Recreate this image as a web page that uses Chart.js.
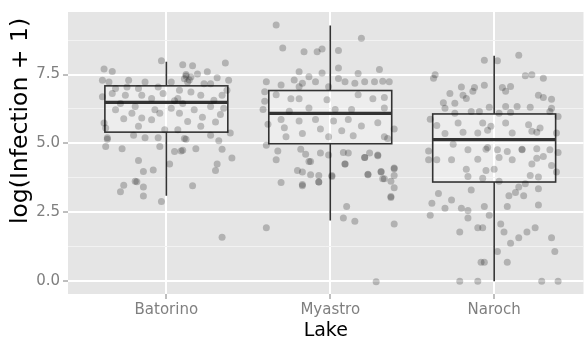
<!DOCTYPE html>
<html>
<head>
<meta charset="utf-8">
<script src="https://cdn.jsdelivr.net/npm/chart.js@4.4.1/dist/chart.umd.min.js"></script>
<style>
  html, body { margin: 0; padding: 0; background: #fff; }
</style>
</head>
<body>
<canvas id="chart" width="587" height="343"></canvas>
<script>
// categories and axis ticks
const lakes = ['Batorino', 'Myastro', 'Naroch'];
const yMajor = [0, 2.5, 5, 7.5];
const yMinor = [1.25, 3.75, 6.25, 8.75];
const xTitle = 'Lake';
const yTitle = 'log(Infection + 1)';

// box plot statistics
const lowerWhisker = [3.10, 2.20, 0.00];
const lowerHinge = [5.41, 4.99, 3.60];
const medians = [6.49, 6.09, 5.14];
const upperHinge = [7.09, 6.92, 6.07];
const upperWhisker = [7.96, 9.28, 8.18];

// jittered observations: horizontal jitter (category units) and log(Infection + 1)
const batorinoJitter = [-0.03, 0.10, 0.16, 0.36, -0.38, -0.33, 0.19, 0.15, 0.31, 0.38, -0.39, -0.35, -0.23, -0.13, 0.03, 0.13, 0.23, 0.27, -0.31, -0.17, -0.05, 0.08, 0.37, -0.33, -0.25, -0.15, -0.02, 0.15, 0.21, 0.34, -0.39, -0.09, 0.07, 0.29, 0.35, -0.31, -0.19, -0.07, 0.03, 0.17, 0.27, -0.26, -0.15, -0.09, -0.04, 0.08, 0.13, 0.30, -0.38, -0.17, -0.01, 0.07, 0.21, -0.37, 0.39, -0.36, -0.13, -0.05, 0.11, 0.27, -0.36, -0.37, -0.27, -0.04, 0.05, 0.10, 0.18, 0.34, 0.12, 0.09, 0.40, -0.17, 0.02, 0.31, 0.30, -0.14, -0.08, -0.18, -0.19, -0.26, -0.14, 0.16, -0.28, -0.14, -0.03, 0.34, -0.28, 0.10, 0.22, -0.20, 0.32, 0.25, 0.12, 0.11, 0.12, 0.14, -0.24, -0.21, 0.05, 0.33];
const batorinoLog = [8.00, 7.86, 7.82, 7.92, 7.70, 7.61, 7.52, 7.41, 7.38, 7.29, 7.29, 7.23, 7.29, 7.23, 7.23, 7.23, 7.17, 7.17, 6.99, 6.99, 7.05, 6.93, 6.93, 6.81, 6.75, 6.75, 6.81, 6.87, 6.75, 6.75, 6.69, 6.63, 6.63, 6.57, 6.28, 6.22, 6.34, 6.22, 6.28, 6.22, 6.34, 5.90, 5.92, 5.86, 6.10, 6.10, 5.80, 5.78, 5.74, 5.62, 5.50, 5.50, 5.62, 5.56, 5.38, 5.21, 5.21, 5.21, 5.18, 5.30, 5.15, 4.89, 4.81, 4.89, 4.71, 4.75, 4.81, 4.79, 5.15, 4.73, 4.47, 4.38, 4.25, 4.25, 4.02, 3.98, 4.04, 3.61, 3.63, 3.48, 3.42, 3.46, 3.25, 3.09, 2.89, 1.60, 6.45, 6.45, 5.95, 5.30, 5.10, 7.60, 7.50, 7.35, 7.45, 7.30, 7.05, 6.10, 6.55, 6.05];

const myastroJitter = [-0.33, 0.19, -0.29, -0.16, -0.08, -0.05, 0.05, -0.19, -0.05, 0.05, 0.17, 0.30, -0.39, -0.30, -0.22, -0.17, -0.13, -0.09, 0.05, 0.09, 0.15, 0.21, 0.27, 0.32, 0.36, -0.01, -0.19, -0.40, -0.33, -0.24, -0.19, -0.02, 0.17, 0.26, 0.33, -0.40, -0.13, 0.03, 0.13, 0.33, -0.41, -0.25, -0.30, -0.19, -0.09, 0.02, 0.11, 0.19, 0.29, 0.39, -0.38, -0.28, -0.17, -0.06, 0.07, -0.27, -0.01, 0.14, 0.33, 0.35, 0.39, 0.31, 0.33, 0.23, 0.37, 0.29, 0.21, 0.09, 0.01, -0.12, -0.07, -0.17, -0.39, -0.32, -0.18, -0.15, -0.06, -0.01, 0.08, 0.11, 0.21, 0.24, 0.29, -0.33, -0.13, 0.09, -0.20, -0.17, -0.12, -0.07, 0.01, 0.23, 0.31, 0.39, 0.32, 0.39, -0.30, -0.17, -0.07, 0.37, 0.39, 0.37, 0.10, 0.08, 0.15, 0.39, -0.39, 0.28];
const myastroLog = [9.30, 8.82, 8.46, 8.33, 8.33, 8.43, 8.37, 7.60, 7.56, 7.74, 7.54, 7.68, 7.24, 7.12, 7.30, 7.18, 7.42, 7.24, 7.36, 7.24, 7.18, 7.24, 7.24, 7.26, 7.24, 7.06, 7.06, 6.88, 6.77, 6.62, 6.62, 6.59, 6.77, 6.62, 6.67, 6.53, 6.29, 6.23, 6.23, 6.29, 6.23, 6.17, 5.87, 5.81, 5.87, 5.81, 5.87, 5.63, 5.75, 5.52, 5.70, 5.57, 5.36, 5.52, 5.46, 5.24, 5.24, 5.28, 5.24, 5.18, 4.11, 3.96, 3.72, 3.88, 3.07, 4.58, 4.49, 4.25, 3.84, 4.34, 3.60, 3.51, 4.93, 4.73, 4.79, 4.61, 4.65, 4.58, 4.67, 4.65, 4.49, 4.65, 4.55, 4.41, 4.34, 4.25, 4.02, 3.96, 3.86, 3.84, 3.80, 3.86, 3.98, 4.08, 3.72, 3.84, 3.58, 3.46, 3.60, 3.63, 3.39, 3.04, 2.71, 2.29, 2.18, 2.08, 1.94, -0.02];

const narochJitter = [0.15, -0.06, 0.02, -0.36, -0.37, 0.19, 0.23, 0.30, -0.06, -0.20, -0.12, 0.05, 0.10, -0.27, -0.19, -0.13, 0.07, 0.27, 0.30, 0.35, -0.31, -0.24, -0.17, -0.30, -0.03, 0.07, 0.14, 0.22, 0.35, -0.14, -0.09, -0.24, 0.03, 0.10, 0.34, 0.39, -0.39, -0.35, -0.22, -0.07, -0.02, 0.07, 0.21, 0.28, -0.30, -0.19, -0.10, -0.04, 0.11, 0.23, 0.26, 0.38, -0.25, -0.16, -0.04, 0.02, 0.17, -0.40, -0.05, 0.08, 0.17, 0.26, 0.34, 0.39, -0.40, -0.35, -0.26, -0.10, 0.03, 0.11, 0.26, 0.30, 0.23, 0.35, 0.38, -0.17, -0.05, 0.00, -0.16, -0.07, 0.22, 0.27, 0.03, 0.19, 0.15, 0.27, -0.14, -0.34, 0.13, 0.09, 0.18, -0.26, -0.38, 0.27, -0.06, 0.08, -0.30, -0.20, -0.16, -0.39, -0.03, -0.16, 0.04, -0.10, -0.07, 0.25, 0.20, -0.21, 0.06, 0.15, 0.35, 0.10, 0.37, 0.02, -0.08, -0.06, 0.08, -0.21, -0.10, 0.29, 0.39];
const narochLog = [8.20, 8.02, 8.00, 7.49, 7.37, 7.46, 7.49, 7.37, 7.11, 7.05, 7.03, 7.03, 7.07, 6.81, 6.75, 6.89, 6.89, 6.75, 6.67, 6.60, 6.48, 6.46, 6.63, 6.28, 6.31, 6.34, 6.34, 6.31, 6.28, 6.16, 6.16, 6.10, 6.10, 6.12, 6.16, 5.98, 5.88, 5.65, 5.74, 5.74, 5.62, 5.74, 5.68, 5.56, 5.36, 5.41, 5.38, 5.48, 5.38, 5.44, 5.41, 5.38, 4.97, 4.77, 4.85, 4.77, 4.79, 4.73, 4.79, 4.71, 4.77, 4.81, 4.77, 4.67, 4.41, 4.41, 4.41, 4.43, 4.49, 4.41, 4.46, 4.53, 4.25, 4.20, 3.96, 4.06, 4.02, 4.06, 3.80, 3.74, 3.84, 3.78, 3.63, 3.54, 3.42, 3.36, 3.31, 3.18, 3.22, 3.10, 3.10, 2.95, 2.83, 2.77, 2.71, 2.71, 2.65, 2.65, 2.57, 2.39, 2.39, 2.29, 2.08, 1.94, 1.94, 1.94, 1.79, 1.79, 1.79, 1.58, 1.58, 1.38, 1.08, 1.08, 0.69, 0.69, 0.69, 0.00, 0.00, 0.00, 0.00];

const jitters = [batorinoJitter, myastroJitter, narochJitter];
const logs = [batorinoLog, myastroLog, narochLog];

const fontFamily = "'DejaVu Sans', sans-serif";

const panelPlugin = {
  id: 'panel',
  beforeDraw(chart) {
    const { ctx, chartArea } = chart;
    ctx.save();
    ctx.fillStyle = '#ffffff';
    ctx.fillRect(0, 0, chart.width, chart.height);
    ctx.fillStyle = '#e5e5e5';
    ctx.fillRect(chartArea.left, chartArea.top, chartArea.right - chartArea.left, chartArea.bottom - chartArea.top);
    ctx.restore();
  },
  // y title sits a little above the panel centre in the original
  afterDraw(chart) {
    const { ctx } = chart;
    ctx.save();
    ctx.translate(21, 121);
    ctx.rotate(-Math.PI / 2);
    ctx.font = '23.5px ' + fontFamily;
    ctx.fillStyle = '#000000';
    ctx.textAlign = 'center';
    ctx.textBaseline = 'middle';
    ctx.fillText(yTitle, 0, 0);
    ctx.restore();
  }
};

// boxes and whiskers, drawn under the points
const boxPlugin = {
  id: 'boxes',
  beforeDatasetsDraw(chart) {
    const { ctx } = chart;
    const xs = chart.scales.x;
    const ys = chart.scales.y;
    ctx.save();
    ctx.strokeStyle = '#333333';
    lakes.forEach((lake, i) => {
      const xc = xs.getPixelForValue(i + 1);
      const half = xs.getPixelForValue(i + 1.375) - xc;
      const yLo = ys.getPixelForValue(lowerWhisker[i]);
      const yQ1 = ys.getPixelForValue(lowerHinge[i]);
      const yMed = ys.getPixelForValue(medians[i]);
      const yQ3 = ys.getPixelForValue(upperHinge[i]);
      const yHi = ys.getPixelForValue(upperWhisker[i]);

      ctx.lineWidth = 1.6;
      ctx.beginPath();
      ctx.moveTo(xc, yHi);
      ctx.lineTo(xc, yQ3);
      ctx.moveTo(xc, yQ1);
      ctx.lineTo(xc, yLo);
      ctx.stroke();

      ctx.fillStyle = 'rgba(255,255,255,0.3)';
      ctx.fillRect(xc - half, yQ3, half * 2, yQ1 - yQ3);
      ctx.strokeRect(xc - half, yQ3, half * 2, yQ1 - yQ3);

      ctx.lineWidth = 3.2;
      ctx.beginPath();
      ctx.moveTo(xc - half, yMed);
      ctx.lineTo(xc + half, yMed);
      ctx.stroke();
    });
    ctx.restore();
  }
};

const datasets = lakes.map((lake, i) => ({
  label: lake,
  data: logs[i].map((v, j) => ({ x: i + 1 + jitters[i][j], y: v })),
  backgroundColor: 'rgba(0,0,0,0.22)',
  borderWidth: 0,
  pointRadius: 3.5,
  pointHoverRadius: 3.5
}));

const isMajor = v => yMajor.includes(v);

new Chart(document.getElementById('chart'), {
  type: 'scatter',
  data: { datasets },
  options: {
    responsive: false,
    animation: false,
    layout: { padding: { top: 7, right: 0, left: 0, bottom: 0 } },
    plugins: {
      legend: { display: false },
      tooltip: { enabled: false }
    },
    scales: {
      x: {
        type: 'linear',
        min: 0.4,
        max: 3.545,
        afterBuildTicks: s => { s.ticks = lakes.map((l, i) => ({ value: i + 1 })); },
        afterFit: s => { s.height = 49; },
        border: { display: false },
        grid: {
          color: '#ffffff',
          lineWidth: 2,
          tickColor: '#7f7f7f',
          tickLength: 5,
          tickWidth: 1
        },
        ticks: {
          autoSkip: false,
          maxRotation: 0,
          padding: 2,
          color: '#7f7f7f',
          font: { family: fontFamily, size: 15 },
          callback: v => lakes[Math.round(v) - 1]
        },
        title: {
          display: true,
          text: xTitle,
          color: '#000000',
          font: { family: fontFamily, size: 19 },
          padding: { top: 0, bottom: 1 }
        }
      },
      y: {
        min: -0.464,
        max: 9.77,
        afterBuildTicks: s => {
          s.ticks = yMajor.concat(yMinor).sort((a, b) => a - b).map(v => ({ value: v }));
        },
        afterFit: s => { s.width = 68; },
        border: { display: false },
        grid: {
          color: c => isMajor(c.tick.value) ? '#ffffff' : '#f2f2f2',
          lineWidth: c => isMajor(c.tick.value) ? 2 : 1,
          tickColor: c => isMajor(c.tick.value) ? '#7f7f7f' : 'rgba(0,0,0,0)',
          tickLength: 5,
          tickWidth: 1
        },
        ticks: {
          autoSkip: false,
          padding: 3,
          color: '#7f7f7f',
          font: { family: fontFamily, size: 15 },
          callback: v => isMajor(v) ? v.toFixed(1) : ''
        },
        title: { display: false }
      }
    }
  },
  plugins: [panelPlugin, boxPlugin]
});
</script>
</body>
</html>
